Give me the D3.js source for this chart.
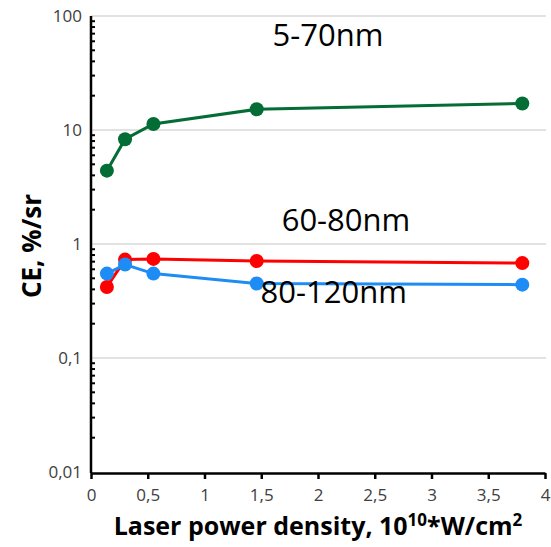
<!DOCTYPE html>
<html>
<head>
<meta charset="utf-8">
<script src="https://cdn.jsdelivr.net/npm/d3@7"></script>
<style>
  html, body { margin: 0; padding: 0; background: #fff; }
  svg { display: block; }
</style>
</head>
<body>
<svg id="chart" width="551" height="547"></svg>
<script>
// ---- data ----
const xValues = [0.14, 0.3, 0.55, 1.46, 3.8];
const green5to70 = [4.4, 8.3, 11.3, 15.2, 17.1];
const red60to80 = [0.42, 0.73, 0.74, 0.71, 0.68];
const blue80to120 = [0.55, 0.66, 0.55, 0.45, 0.44];
const seriesNames = ["5-70nm", "60-80nm", "80-120nm"];
const seriesColors = ["#046d35", "#ff0000", "#1e8cf5"];
const yTickValues = [0.01, 0.1, 1, 10, 100];
const yTickLabels = ["0,01", "0,1", "1", "10", "100"];
const xTickValues = [0, 0.5, 1, 1.5, 2, 2.5, 3, 3.5, 4];
const xTickLabels = ["0", "0,5", "1", "1,5", "2", "2,5", "3", "3,5", "4"];

(function () {
const series = [green5to70, red60to80, blue80to120].map((vals, i) => ({
  name: seriesNames[i], color: seriesColors[i],
  points: vals.map((v, j) => ({ x: xValues[j], y: v }))
}));

const svg = d3.select("#chart");
const pl = 91, pr = 546, pt = 16, pb = 472;

const x = d3.scaleLinear().domain([0, 4]).range([pl, 545]);
const y = d3.scaleLog().domain([0.01, 100]).range([pb, pt]);

const font = "'Open Sans', sans-serif";

// gridlines
svg.append("g").selectAll("line")
  .data(yTickValues.filter(v => v > 0.01))
  .join("line")
  .attr("x1", pl).attr("x2", pr)
  .attr("y1", d => y(d)).attr("y2", d => y(d))
  .attr("stroke", "#d9d9d9").attr("stroke-width", 1.5);

// y axis minor ticks (inside)
const minor = [];
[0.01, 0.1, 1, 10].forEach(dec => { for (let k = 2; k <= 9; k++) minor.push(dec * k); });
svg.append("g").selectAll("line")
  .data(minor).join("line")
  .attr("x1", pl).attr("x2", pl + 4)
  .attr("y1", d => y(d)).attr("y2", d => y(d))
  .attr("stroke", "#000").attr("stroke-width", 2);

// y axis
const yAxis = d3.axisLeft(y).tickValues(yTickValues)
  .tickFormat((d, i) => yTickLabels[i]).tickSize(0).tickPadding(9);
const gy = svg.append("g").attr("transform", `translate(${pl},0)`).call(yAxis);
gy.select(".domain").attr("stroke", "#000").attr("stroke-width", 2.5)
  .attr("d", `M0,${pt}V${pb + 1}`);
gy.selectAll("text").attr("font-family", font).attr("font-size", 17).attr("fill", "#404040");

// x axis
const xAxis = d3.axisBottom(x).tickValues(xTickValues)
  .tickFormat((d, i) => xTickLabels[i]).tickSizeInner(6).tickSizeOuter(0).tickPadding(10);
const gx = svg.append("g").attr("transform", `translate(0,${pb + 1})`).call(xAxis);
gx.select(".domain").attr("stroke", "#000").attr("stroke-width", 2.5);
gx.selectAll(".tick line").attr("stroke", "#000").attr("stroke-width", 2.5);
gx.selectAll("text").attr("font-family", font).attr("font-size", 17).attr("fill", "#404040");

// lines & markers
const line = d3.line().x(d => x(d.x)).y(d => y(d.y));
series.forEach(s => {
  svg.append("path").datum(s.points)
    .attr("d", line).attr("fill", "none")
    .attr("stroke", s.color).attr("stroke-width", 3);
});
series.forEach(s => {
  svg.append("g").selectAll("circle").data(s.points).join("circle")
    .attr("cx", d => x(d.x)).attr("cy", d => y(d.y)).attr("r", 7)
    .attr("fill", s.color);
});

// series labels
svg.append("text").attr("x", x(1.6)).attr("y", 46).text(seriesNames[0])
  .attr("font-family", font).attr("font-size", 31).attr("fill", "#000");
svg.append("text").attr("x", x(1.68)).attr("y", 231).text(seriesNames[1])
  .attr("font-family", font).attr("font-size", 31).attr("fill", "#000");
svg.append("text").attr("x", x(1.494)).attr("y", 303).text(seriesNames[2])
  .attr("font-family", font).attr("font-size", 31).attr("fill", "#000");

// axis titles
svg.append("text")
  .attr("transform", "translate(41,246) rotate(-90)")
  .attr("text-anchor", "middle")
  .attr("font-family", font).attr("font-weight", "bold").attr("font-size", 26)
  .attr("fill", "#000")
  .text("CE, %/sr");

const xt = svg.append("text")
  .attr("x", 318).attr("y", 535)
  .attr("text-anchor", "middle")
  .attr("font-family", font).attr("font-weight", "bold").attr("font-size", 25)
  .attr("fill", "#000");
xt.append("tspan").text("Laser power density, 10");
xt.append("tspan").attr("font-size", 17).attr("dy", -9).text("10");
xt.append("tspan").attr("font-size", 25).attr("dy", 9).text("*W/cm");
xt.append("tspan").attr("font-size", 17).attr("dy", -9).text("2");
})();
</script>
</body>
</html>
